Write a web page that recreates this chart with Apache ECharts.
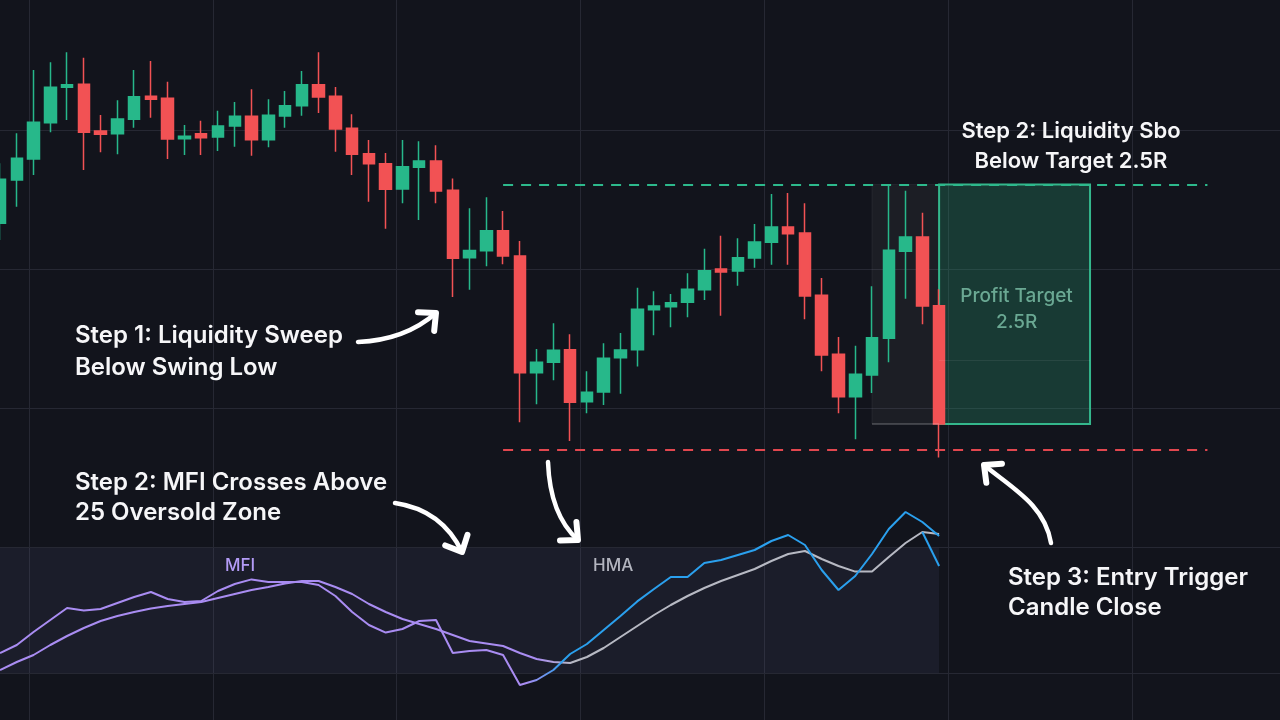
<!DOCTYPE html>
<html>
<head>
<meta charset="utf-8">
<script src="https://cdn.jsdelivr.net/npm/echarts@6/dist/echarts.min.js"></script>
<style>
  html, body { margin: 0; padding: 0; background: #12141c; }
  #chart { width: 1280px; height: 720px; }
</style>
</head>
<body>
<div id="chart"></div>
<script>
// price bars
const opens = [113.27,116.39,117.90,120.51,123.06,123.27,119.91,119.72,120.76,122.41,122.27,119.36,119.72,119.48,120.27,120.97,119.29,120.99,121.73,123.24,122.41,120.11,118.28,117.56,115.74,117.30,117.76,115.65,110.80,111.30,112.74,110.92,102.53,103.27,104.18,100.44,101.14,103.60,104.18,107.06,107.27,107.59,108.50,109.99,109.84,110.78,111.91,113.01,112.58,108.09,103.85,100.80,102.36,105.00,111.26,112.29,107.35];
const closes = [116.44,117.95,120.54,123.06,123.24,119.82,119.68,120.78,122.38,122.19,119.34,119.53,119.43,120.27,120.97,119.29,121.04,121.73,123.24,122.36,120.06,118.24,117.56,115.72,117.35,117.76,115.60,110.76,111.32,112.74,110.92,102.53,103.27,104.14,100.40,101.12,103.56,104.16,107.09,107.32,107.56,108.53,109.86,109.77,110.80,111.93,113.01,112.53,108.04,103.80,100.80,102.41,105.04,111.33,112.29,107.32,98.83];
const lows = [112.07,114.47,116.75,119.82,120.71,117.11,118.38,118.24,120.15,120.87,117.90,118.19,118.19,118.47,118.78,118.14,118.74,120.15,121.01,121.21,118.42,116.75,114.83,112.88,114.71,113.51,114.71,107.97,108.50,110.18,110.32,98.96,100.25,101.98,97.61,99.60,100.20,101.01,102.97,105.22,105.79,106.51,107.76,106.63,108.78,110.08,110.29,110.29,106.37,102.63,99.60,97.73,101.06,103.27,107.85,106.01,96.42];
const highs = [117.59,119.75,124.30,124.86,125.58,125.19,121.06,122.12,124.30,124.95,123.46,120.35,120.65,121.37,122.00,122.91,122.19,122.79,124.23,125.58,123.08,121.12,119.27,118.33,119.27,119.17,118.88,116.50,114.35,115.14,114.16,112.00,104.23,106.08,105.29,102.63,104.64,105.38,108.64,108.38,108.19,109.68,111.45,112.38,112.19,113.22,115.38,115.45,114.71,109.34,105.09,104.47,108.74,116.03,115.62,114.04,108.53];

// indicator panel
const mfiFast = [23.5,27.5,34,40,46,44.8,45.5,48.5,51.5,54,50.5,49,49.5,54.5,58,60.3,59,59,59,57.5,52,44,37.5,33.7,35.5,39.5,40,23.5,24.5,25,22.5,7.5,10,15,23,28,35,42,49.3,55.5,61.5,61.5,68.5,70,72.5,75,79.5,82.5,77.5,65,55,62,73,85.5,94,89,82];
const mfiSlow = [15,19,22.5,27.5,32,36,39.5,42,44,45.8,47,48,49,51,53,55,56.5,58.3,59.5,59.5,56.5,53,48,44,40.5,38,35.5,32.5,29.5,28.3,27,23.5,20.5,19,18.5,21.5,26,31.5,37,42.5,47.5,52,56,59.5,62.5,65.5,69.5,73,74.5,70.5,67,64.2,64.2,71.5,78.5,84,83];
const hmaTail = [[55, 84], [56, 67]];

// trade levels
const targetPrice = 116.06;
const stopPrice = 96.96;
const midLevel = 103.44;
const entryPrice = closes[closes.length - 1];
const levelStart = 30, levelEnd = 72, boxStart = 52, boxEnd = 65;
const panelTop = 76, panelBottom = 13.5;

const futureSlots = 20;
const categories = Array.from({ length: opens.length + futureSlots }, (_, i) => 'T' + (i + 1));
const candles = opens.map((o, i) => [o, closes[i], lows[i], highs[i]]);

const up = '#27b88a';
const down = '#f25254';
const gridColor = '#262833';
const purple = '#a98cf2';
const blue = '#2aa0ee';
const grey = '#b7b9c3';

const chart = echarts.init(document.getElementById('chart'));

const hidden = { axisLine: { show: false }, axisTick: { show: false }, axisLabel: { show: false } };

function arrow(p0, c1, c2, p1) {
  const shape = { x1: p0[0], y1: p0[1], x2: p1[0], y2: p1[1], cpx1: c1[0], cpy1: c1[1] };
  if (c2) { shape.cpx2 = c2[0]; shape.cpy2 = c2[1]; }
  const from = c2 || c1;
  const dx = p1[0] - from[0], dy = p1[1] - from[1];
  const len = Math.hypot(dx, dy);
  const ux = dx / len, uy = dy / len;
  const arm = 18, ang = Math.PI * 0.24;
  const rot = (a) => [
    p1[0] - arm * (ux * Math.cos(a) - uy * Math.sin(a)),
    p1[1] - arm * (ux * Math.sin(a) + uy * Math.cos(a))
  ];
  return [
    { type: 'bezierCurve', shape, z: 100, style: { stroke: '#ffffff', lineWidth: 4.5, fill: 'none', lineCap: 'round' } },
    { type: 'polyline', shape: { points: [rot(ang), p1, rot(-ang)] }, z: 100,
      style: { stroke: '#ffffff', lineWidth: 6, fill: 'none', lineJoin: 'round', lineCap: 'round' } }
  ];
}

function note(x, y, text, extra) {
  return {
    type: 'text', x, y, z: 100,
    style: Object.assign({
      text, fill: '#f6f6f8', font: '600 24px Inter', lineHeight: 31, verticalAlign: 'middle'
    }, extra || {})
  };
}

const option = {
  backgroundColor: '#12141c',
  animation: false,
  grid: [
    { left: 29, right: 0, top: 0, bottom: 0 },
    { left: 0, right: 0, top: 130.2, bottom: 47 },
    { left: 0, right: 5.5, top: 46.4, bottom: 173.2 },
    { left: 0, right: 5.5, top: 500, bottom: 20 }
  ],
  xAxis: [
    Object.assign({ gridIndex: 0, type: 'value', min: 0, max: 6.806, interval: 1,
      splitLine: { show: true, showMaxLine: false, lineStyle: { color: gridColor, width: 1 } } }, hidden),
    Object.assign({ gridIndex: 1, type: 'value', min: 0, max: 1, splitLine: { show: false } }, hidden),
    { gridIndex: 2, type: 'category', data: categories, boundaryGap: false, show: false },
    { gridIndex: 3, type: 'category', data: categories, boundaryGap: false, show: false }
  ],
  yAxis: [
    { gridIndex: 0, type: 'value', show: false },
    Object.assign({ gridIndex: 1, type: 'value', inverse: true, min: 0, max: 3.905, interval: 1,
      splitLine: { show: true, showMaxLine: true, lineStyle: { color: gridColor, width: 1 } } }, hidden),
    { gridIndex: 2, type: 'value', min: 90, max: 126, show: false },
    { gridIndex: 3, type: 'value', min: 0, max: 100, show: false }
  ],
  series: [
    {
      name: 'zones', type: 'line', xAxisIndex: 2, yAxisIndex: 2, data: [], z: 1, silent: true,
      markArea: {
        silent: true,
        data: [
          [{ coord: [boxStart, targetPrice],
             itemStyle: { color: 'rgba(255,255,255,0.045)', borderColor: 'rgba(255,255,255,0.06)', borderWidth: 1 } },
           { coord: [opens.length - 1, entryPrice] }],
          [{ coord: [opens.length - 1, targetPrice],
             itemStyle: { color: 'rgba(42,172,124,0.25)', borderColor: '#34b78c', borderWidth: 2 },
             label: { show: true, position: 'inside', offset: [2, 5], formatter: 'Profit Target\n2.5R',
                      color: '#6aa893', fontSize: 19, lineHeight: 26, fontFamily: 'Inter', fontWeight: 500 } },
           { coord: [boxEnd, entryPrice] }]
        ]
      },
      markLine: {
        silent: true, symbol: 'none', label: { show: false },
        data: [
          [{ coord: [boxStart, entryPrice], lineStyle: { color: 'rgba(255,255,255,0.16)', type: 'solid', width: 2 } },
           { coord: [opens.length - 1, entryPrice] }],
          [{ coord: [opens.length - 1, midLevel], lineStyle: { color: 'rgba(255,255,255,0.07)', type: 'solid', width: 1 } },
           { coord: [boxEnd, midLevel] }],
          [{ coord: [levelStart, targetPrice], lineStyle: { color: '#2db98c', type: [10, 8], width: 2 } },
           { coord: [levelEnd, targetPrice] }],
          [{ coord: [levelStart, stopPrice], lineStyle: { color: '#e2474f', type: [10, 8], width: 2 } },
           { coord: [levelEnd, stopPrice] }]
        ]
      }
    },
    {
      name: 'price', type: 'candlestick', xAxisIndex: 2, yAxisIndex: 2, data: candles, barWidth: 12, z: 3,
      itemStyle: { color: up, color0: down, borderColor: up, borderColor0: down, borderWidth: 1.5 }
    },
    {
      name: 'MFI slow', type: 'line', xAxisIndex: 3, yAxisIndex: 3, data: mfiSlow, symbol: 'none',
      lineStyle: { width: 2, color: new echarts.graphic.LinearGradient(0, 0, 1, 0, [
        { offset: 0, color: purple }, { offset: 0.57, color: purple },
        { offset: 0.61, color: grey }, { offset: 1, color: grey }]) },
      markArea: {
        silent: true,
        data: [[{ coord: [0, panelTop], itemStyle: { color: 'rgba(101,95,145,0.12)' } },
                { coord: [opens.length - 1, panelBottom] }]]
      }
    },
    {
      name: 'MFI fast', type: 'line', xAxisIndex: 3, yAxisIndex: 3, data: mfiFast, symbol: 'none',
      lineStyle: { width: 2, color: new echarts.graphic.LinearGradient(0, 0, 1, 0, [
        { offset: 0, color: purple }, { offset: 0.56, color: purple },
        { offset: 0.6, color: blue }, { offset: 1, color: blue }]) }
    },
    {
      name: 'HMA tail', type: 'line', xAxisIndex: 3, yAxisIndex: 3, data: hmaTail, symbol: 'none',
      lineStyle: { width: 2, color: blue }
    }
  ],
  graphic: [
    note(75, 352, 'Step 1: Liquidity Sweep\nBelow Swing Low', { lineHeight: 32 }),
    note(75, 498, 'Step 2: MFI Crosses Above\n25 Oversold Zone', { lineHeight: 30 }),
    note(1071, 146, 'Step 2: Liquidity Sbo\nBelow Target 2.5R', { align: 'center', lineHeight: 30, font: '600 22px Inter' }),
    note(1008, 593, 'Step 3: Entry Trigger\nCandle Close', { lineHeight: 30 }),
    note(225, 566, 'MFI', { fill: '#b39bf6', font: '500 17px Inter' }),
    note(593, 566, 'HMA', { fill: '#b3b5bf', font: '500 17px Inter' }),
    ...arrow([358, 342], [405, 340], null, [436, 313]),
    ...arrow([395, 503], [442, 510], null, [462, 552]),
    ...arrow([548, 462], [550, 515], null, [578, 540]),
    ...arrow([1051, 543], [1045, 505], [1012, 488], [984, 465])
  ]
};

chart.setOption(option);
</script>
</body>
</html>
